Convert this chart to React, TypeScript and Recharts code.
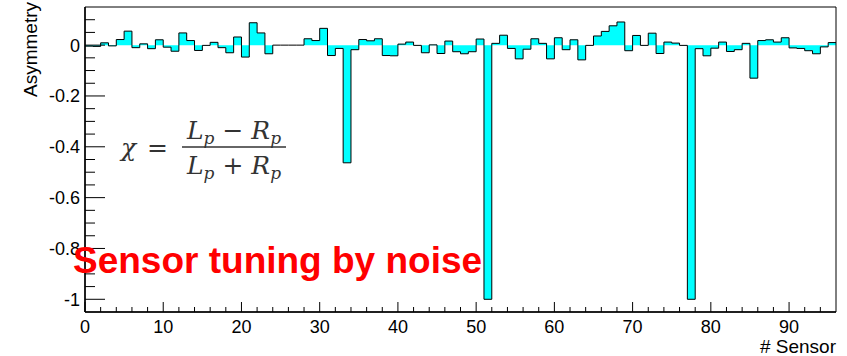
import { ComposedChart, Area, XAxis, YAxis, ReferenceArea } from "recharts";

// asymmetry per sensor bin (0..95)
const asymmetry = [
  -0.004, -0.005, 0.009, -0.003, 0.022, 0.055, -0.01, 0.005, -0.014, 0.021,
  -0.008, -0.024, 0.048, 0.018, -0.021, -0.001, 0.011, -0.01, -0.03, 0.032,
  -0.047, 0.088, 0.048, -0.034, 0.0, 0.0, 0.0, 0.0, 0.025, 0.018,
  0.066, -0.041, -0.013, -0.463, -0.018, 0.022, 0.017, 0.025, -0.041, -0.042,
  0.004, 0.012, -0.001, -0.03, 0.001, -0.033, 0.016, -0.026, -0.034, -0.026,
  0.024, -1.0, 0.007, 0.039, -0.013, -0.054, -0.016, 0.025, 0.007, -0.054,
  0.029, -0.018, 0.021, -0.058, -0.001, 0.036, 0.054, 0.076, 0.091, -0.022,
  0.038, -0.001, 0.047, -0.033, 0.012, 0.008, -0.001, -1.0, -0.014, -0.042,
  -0.012, 0.012, -0.025, -0.018, 0.007, -0.13, 0.018, 0.021, 0.012, 0.029,
  -0.011, -0.013, -0.022, -0.034, -0.007, 0.01,
];

const xTicks = [0, 2, 4, 6, 8, 10, 12, 14, 16, 18, 20, 22, 24, 26, 28, 30, 32, 34, 36, 38, 40, 42, 44, 46, 48, 50, 52, 54, 56, 58, 60, 62, 64, 66, 68, 70, 72, 74, 76, 78, 80, 82, 84, 86, 88, 90, 92, 94];
const yTicks = [-1, -0.95, -0.9, -0.85, -0.8, -0.75, -0.7, -0.65, -0.6, -0.55, -0.5, -0.45, -0.4, -0.35, -0.3, -0.25, -0.2, -0.15, -0.1, -0.05, 0, 0.05, 0.1];

// step outline needs a closing point at the right edge
const data = asymmetry.map((v, i) => ({ x: i, v }));
data.push({ x: asymmetry.length, v: asymmetry[asymmetry.length - 1] });

const FONT = "'Liberation Sans', Arial, Helvetica, sans-serif";
const MATH = "'DejaVu Serif', 'Liberation Serif', serif";

const XTick = (props: any) => {
  const { x, y, payload } = props;
  const v = payload.value;
  const major = v % 10 === 0;
  return (
    <g>
      <line x1={x} x2={x} y1={y} y2={y - (major ? 10 : 5)} stroke="#000" strokeWidth={1} />
      {major && (
        <text x={x} y={y + 21} textAnchor="middle" fontSize={18} fontFamily={FONT} fill="#000">
          {v}
        </text>
      )}
    </g>
  );
};

const YTick = (props: any) => {
  const { x, y, payload } = props;
  const v = payload.value;
  const major = Math.abs(v * 5 - Math.round(v * 5)) < 1e-6;
  return (
    <g>
      <line x1={x} x2={x + (major ? 20 : 10)} y1={y} y2={y} stroke="#000" strokeWidth={1} />
      {major && (
        <text x={x - 5} y={y + 6.5} textAnchor="end" fontSize={18} fontFamily={FONT} fill="#000">
          {String(v)}
        </text>
      )}
    </g>
  );
};

export default function App() {
  return (
    <div style={{ position: "absolute", left: 0, top: 0, width: 847, height: 356, background: "#fff" }}>
      <ComposedChart width={847} height={356} data={data} margin={{ top: 7, right: 11, bottom: 14, left: 25 }}>
        <XAxis
          dataKey="x"
          type="number"
          domain={[0, 96]}
          ticks={xTicks}
          interval={0}
          tick={<XTick />}
          tickLine={false}
          tickSize={0}
          tickMargin={0}
          height={30}
          axisLine={{ stroke: "#000", strokeWidth: 1.5 }}
          allowDataOverflow
        />
        <YAxis
          type="number"
          domain={[-1.05, 0.15]}
          ticks={yTicks}
          interval={0}
          tick={<YTick />}
          tickLine={false}
          tickSize={0}
          tickMargin={0}
          width={60}
          axisLine={{ stroke: "#000", strokeWidth: 1.5 }}
          allowDataOverflow
        />
        <Area
          type="stepAfter"
          dataKey="v"
          stroke="#000"
          strokeWidth={1}
          fill="#00ffff"
          fillOpacity={1}
          dot={false}
          activeDot={false}
          isAnimationActive={false}
        />
        <ReferenceArea x1={0} x2={96} y1={-1.05} y2={0.15} fill="none" stroke="#000" strokeWidth={1} />
      </ComposedChart>
      <svg width={847} height={356} style={{ position: "absolute", left: 0, top: 0, pointerEvents: "none" }}>
        <text
          transform="translate(37,2) rotate(-90)"
          textAnchor="end"
          fontSize={19}
          fontFamily={FONT}
          fill="#000"
        >
          Asymmetry
        </text>
        <text x={836} y={353} textAnchor="end" fontSize={19} fontFamily={FONT} fill="#000">
          # Sensor
        </text>
        <g fill="#333" fontFamily={MATH} fontStyle="italic" fontSize={25}>
          <text x={121} y={156}>χ</text>
          <text x={147} y={156} fontStyle="normal">=</text>
          <text x={234} y={139} textAnchor="middle">
            L<tspan fontSize={17} dy={5}>p</tspan>
            <tspan fontStyle="normal" dy={-5}> − </tspan>R<tspan fontSize={17} dy={5}>p</tspan>
          </text>
          <line x1={182} x2={286} y1={147} y2={147} stroke="#333" strokeWidth={1.5} />
          <text x={234} y={174} textAnchor="middle">
            L<tspan fontSize={17} dy={5}>p</tspan>
            <tspan fontStyle="normal" dy={-5}> + </tspan>R<tspan fontSize={17} dy={5}>p</tspan>
          </text>
        </g>
        <text x={73} y={273} fontSize={37} fontWeight="bold" fontFamily={FONT} fill="#ff0000">
          Sensor tuning by noise
        </text>
      </svg>
    </div>
  );
}
